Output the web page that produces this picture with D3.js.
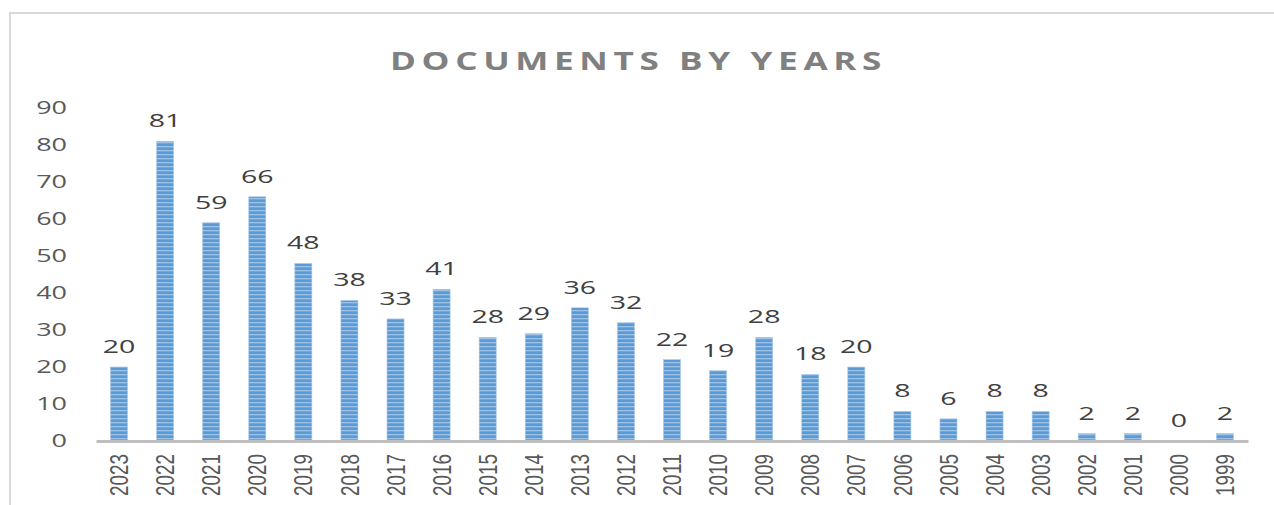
<!DOCTYPE html>
<html>
<head>
<meta charset="utf-8">
<script src="https://cdn.jsdelivr.net/npm/d3@7"></script>
<style>
  body { margin: 0; background: #fff; overflow: hidden; }
  .title { font-family: "Open Sans", sans-serif; font-weight: 700; fill: #808080; }
  .ytick text { font-family: "Open Sans", sans-serif; fill: #595959; }
  .xtick text { font-family: "Liberation Sans Narrow", "Arial Narrow", "Liberation Sans", sans-serif; fill: #595959; }
  .lbl { font-family: "Open Sans", sans-serif; fill: #404040; }
</style>
</head>
<body>
<div id="chart"></div>
<script>
var years = ['2023','2022','2021','2020','2019','2018','2017','2016','2015','2014','2013','2012','2011','2010','2009','2008','2007','2006','2005','2004','2003','2002','2001','2000','1999'];
var counts = [20,81,59,66,48,38,33,41,28,29,36,32,22,19,28,18,20,8,6,8,8,2,2,0,2];
var yTicks = [0,10,20,30,40,50,60,70,80,90];

var W = 1274, H = 505;
var margin = {top: 108, right: 26, bottom: 64, left: 96};
var width = W - margin.left - margin.right;
var height = H - margin.top - margin.bottom;
var stretch = 1.5; // the reference text is drawn wide

var svg = d3.select('#chart').append('svg')
    .attr('width', W)
    .attr('height', H)
    .style('display', 'block');

// striped fill for bars
var defs = svg.append('defs');
var pat = defs.append('pattern')
    .attr('id', 'stripes')
    .attr('patternUnits', 'userSpaceOnUse')
    .attr('width', 8).attr('height', 4);
pat.append('rect').attr('width', 8).attr('height', 4).attr('fill', '#5b9bd5');
pat.append('rect').attr('y', 2).attr('width', 8).attr('height', 1.3).attr('fill', '#9cc2e8');

// outer frame (left and top only visible)
svg.append('path')
    .attr('d', 'M10,' + H + ' V13 H' + W)
    .attr('fill', 'none')
    .attr('stroke', '#d9d9d9')
    .attr('stroke-width', 2);

svg.append('text')
    .attr('class', 'title')
    .attr('x', 390)
    .attr('y', 70)
    .attr('textLength', 497)
    .attr('lengthAdjust', 'spacingAndGlyphs')
    .style('font-size', '25px')
    .style('letter-spacing', '4px')
    .text('DOCUMENTS BY YEARS');

var g = svg.append('g')
    .attr('transform', 'translate(' + margin.left + ',' + margin.top + ')');

var x = d3.scaleBand().domain(years).range([0, width]).paddingInner(0.63).paddingOuter(0.315);
var y = d3.scaleLinear().domain([0, 90]).range([height, 0]);

// y axis labels (no line)
var ya = g.append('g').attr('class', 'ytick')
    .call(d3.axisLeft(y).tickValues(yTicks).tickSize(0));
ya.select('.domain').remove();
ya.selectAll('text')
    .style('font-size', '18px')
    .attr('x', -29 / stretch)
    .attr('transform', 'scale(' + stretch + ',1)');

g.selectAll('.bar')
    .data(counts)
    .enter().append('rect')
    .attr('class', 'bar')
    .attr('x', function(d, i) { return x(years[i]); })
    .attr('y', function(d) { return y(d); })
    .attr('width', x.bandwidth())
    .attr('height', function(d) { return height - y(d); })
    .attr('fill', 'url(#stripes)')
    .attr('stroke', '#a9c9ea')
    .attr('stroke-width', 0.6);

// x axis
var xa = g.append('g').attr('class', 'xtick')
    .attr('transform', 'translate(0,' + height + ')')
    .call(d3.axisBottom(x).tickSize(0).tickPadding(0));
xa.select('.domain').attr('stroke', '#bfbfbf').attr('stroke-width', 3);
xa.selectAll('text')
    .style('font-size', '26px')
    .attr('transform', 'rotate(-90)')
    .attr('text-anchor', 'end')
    .attr('textLength', 42)
    .attr('lengthAdjust', 'spacingAndGlyphs')
    .attr('x', -13)
    .attr('y', 0)
    .attr('dy', '0.35em');

g.selectAll('.lbl')
    .data(counts)
    .enter().append('text')
    .attr('class', 'lbl')
    .attr('transform', function(d, i) {
        return 'translate(' + (x(years[i]) + x.bandwidth() / 2) + ',' + (y(d) - 14) + ') scale(' + stretch + ',1)';
    })
    .attr('text-anchor', 'middle')
    .style('font-size', '19px')
    .text(function(d) { return d; });
</script>
</body>
</html>
